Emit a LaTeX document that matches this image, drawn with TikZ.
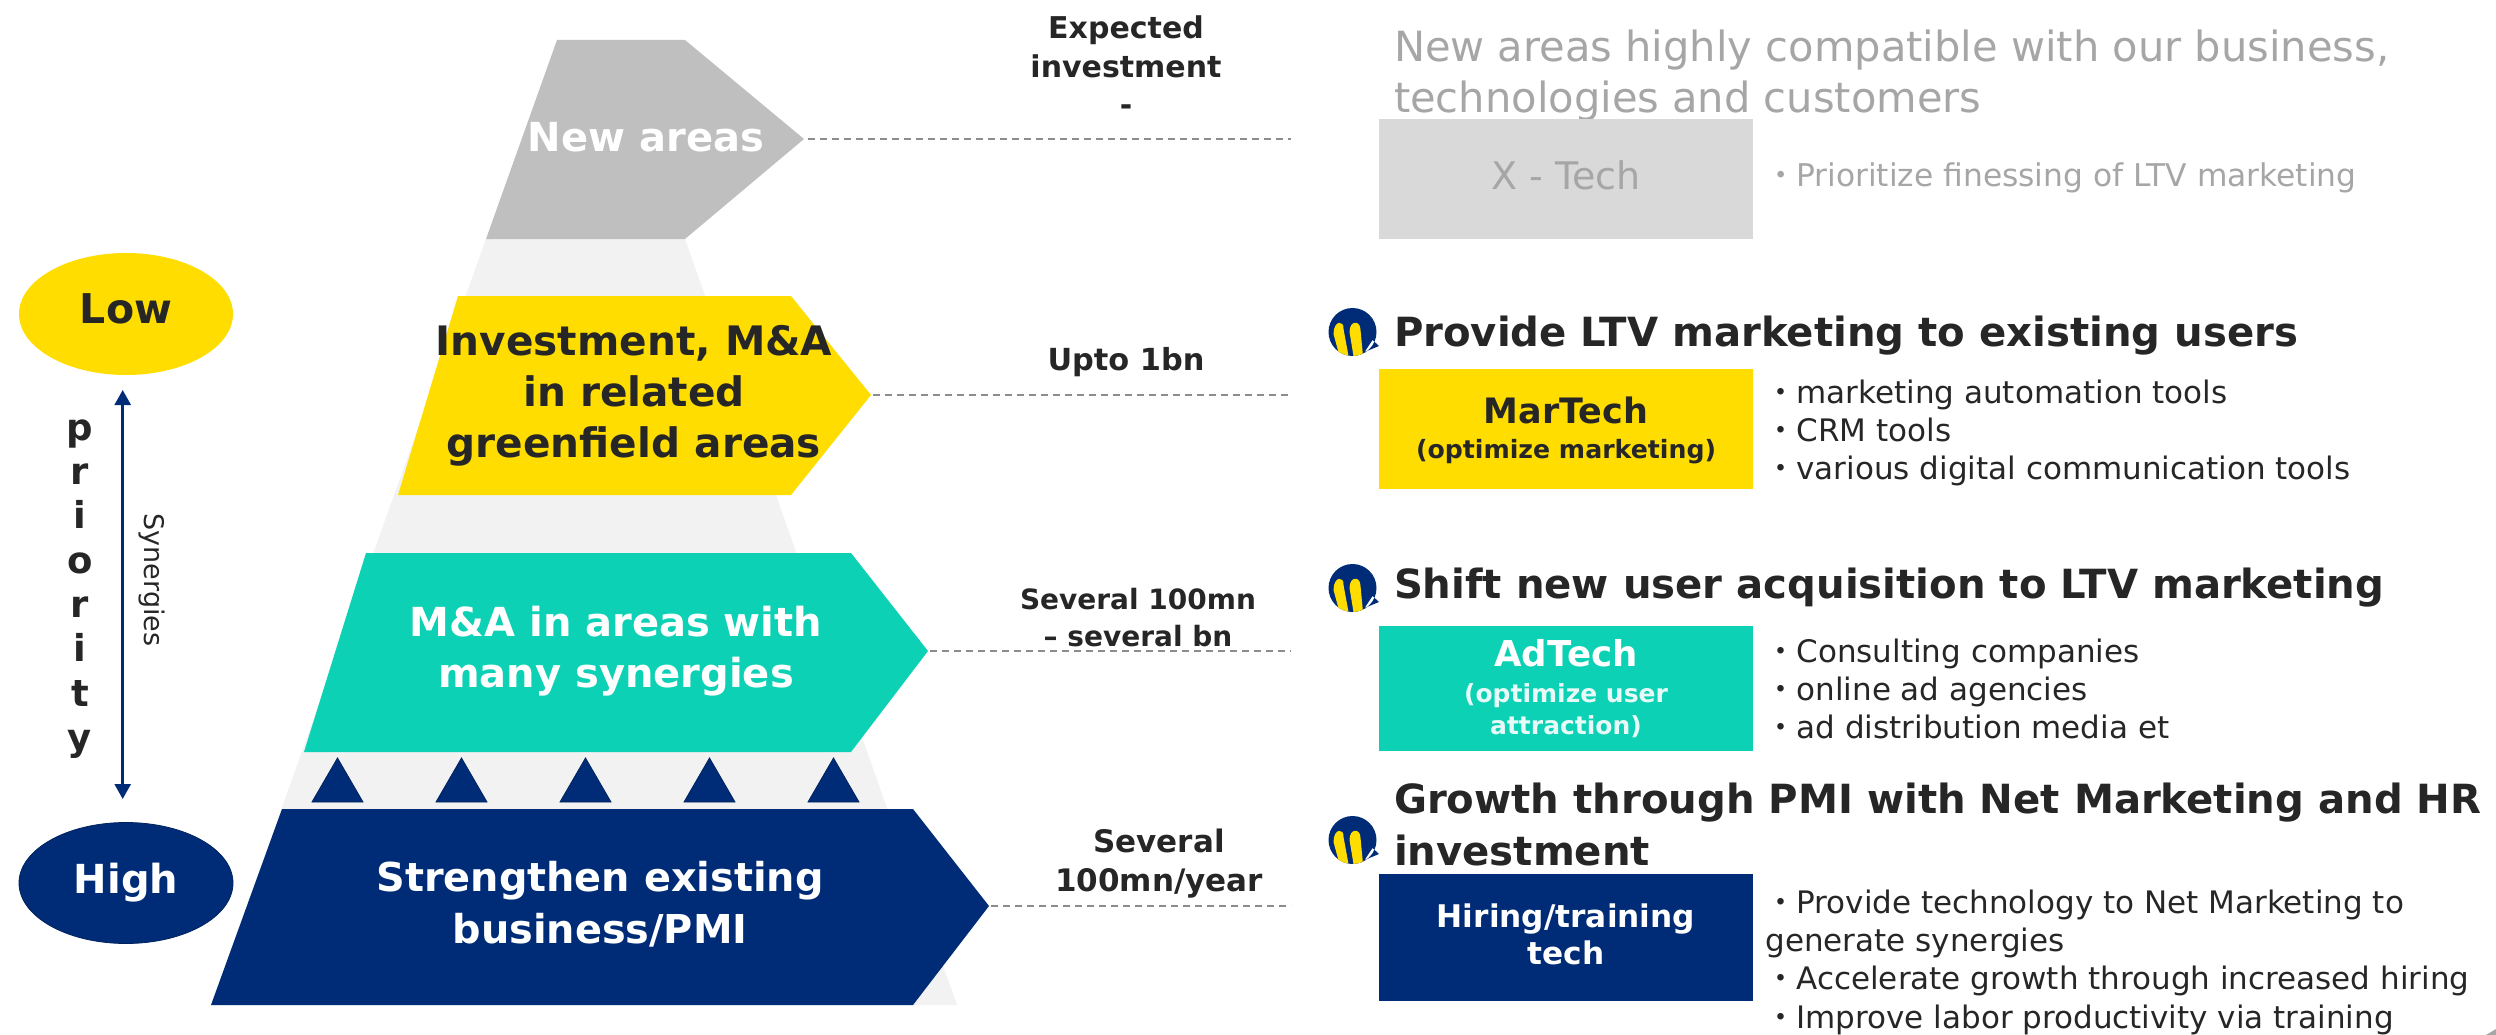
\documentclass[tikz,border=0pt]{standalone}
\usepackage{fontspec}
\setmainfont{DejaVu Sans}
\newfontfamily\cjk{Noto Sans CJK JP}
\usetikzlibrary{arrows.meta,shapes.geometric}
\definecolor{navy}{HTML}{002C77}
\definecolor{yel}{HTML}{FFDD00}
\definecolor{teal2}{HTML}{0DD1B4}
\definecolor{gr}{HTML}{BFBFBF}
\definecolor{lgr}{HTML}{F2F2F2}
\definecolor{ink}{HTML}{262626}
\definecolor{mut}{HTML}{A6A6A6}
\newcommand\bu{{\cjk ・}}
\tikzset{
 every node/.style={inner sep=0pt,outer sep=0pt},
 dashline/.style={draw=gray!90,line width=2pt,dash pattern=on 7pt off 5pt},
 pylabel/.style={font=\fontsize{40}{51}\selectfont\bfseries,align=center},
 amount/.style={font=\fontsize{30}{38.5}\selectfont\bfseries,align=center,text=ink},
 heading/.style={font=\fontsize{40.2}{52}\selectfont\bfseries,align=left,anchor=west,text=ink},
 body/.style={font=\fontsize{31}{38.3}\selectfont,align=left,anchor=west,text=ink},
 catbox/.style={minimum width=374pt,anchor=north west},
 tri/.style={fill=navy,draw=navy!80!black,line width=.8pt},
 logo/.pic={
  \fill[navy] (0,0) circle (24) (12,20) -- (26.5,14) -- (20,8) -- cycle;
  \begin{scope}
   \clip (0,0) circle (24);
   \fill[yel] (-19,2) .. controls (-19,-12) and (-8,-12) .. (-9,-3) -- (-4,24) -- (-13,24) -- cycle;
   \fill[yel] (-3,0) .. controls (-3,-12) and (8,-12) .. (8,-2) -- (10.5,24) -- (1,24) -- cycle;
  \end{scope}
 }
}
\begin{document}
\begin{tikzpicture}[x=1pt,y=-1pt]
\useasboundingbox (0,0) rectangle (2496,1035);
\fill[lgr] (486,239) -- (685,239) -- (957,1005) -- (211,1005) -- cycle;
% pyramid levels
\fill[gr] (557,40) -- (685,40) -- (804,139) -- (685,239) -- (486,239) -- cycle;
\fill[yel] (458,296) -- (791,296) -- (871,395) -- (791,495) -- (398,495) -- cycle;
\fill[teal2] (366,553) -- (851,553) -- (928,651) -- (851,752) -- (304,752) -- cycle;
\fill[navy] (282,809) -- (913,809) -- (989,906) -- (913,1005) -- (211,1005) -- cycle;
\foreach \a in {312,436,560,684,808}{
 \path[tri] (\a,802) -- (\a+25.5,758) -- (\a+51,802) -- cycle;
}
\node[pylabel,text=white] (l1) at (646,137) {New areas};
\node[pylabel,text=ink,font=\fontsize{40.6}{51}\selectfont\bfseries] (l2) at (634,396) {Investment, M\&A\\in related\\greenfield areas};
\node[pylabel,text=white] (l3) at (616,651) {M\&A in areas with\\many synergies};
\node[pylabel,text=white,font=\fontsize{39.8}{51.5}\selectfont\bfseries] (l4) at (600,904) {Strengthen existing\\business/PMI};
% dashed connectors
\coordinate (t1) at (808,139); \coordinate (e1) at (1291,139);
\coordinate (t2) at (873,395); \coordinate (e2) at (1291,395);
\coordinate (t3) at (930,651); \coordinate (e3) at (1291,651);
\coordinate (t4) at (991,906); \coordinate (e4) at (1291,906);
\draw[dashline] (t1) -- (e1);
\draw[dashline] (t2) -- (e2);
\draw[dashline] (t3) -- (e3);
\draw[dashline] (t4) -- (e4);
% amounts
\node[amount] (a1) at (1126,66) {Expected\\investment\\-};
\node[amount,font=\fontsize{30.4}{38}\selectfont\bfseries] (a2) at (1126,362) {Upto 1bn};
\node[amount,font=\fontsize{28}{37}\selectfont\bfseries] (a3) at (1138,618) {Several 100mn\\– several bn};
\node[amount,font=\fontsize{31}{39}\selectfont\bfseries] (a4) at (1159,864) {Several\\100mn/year};
% priority scale
\node[ellipse,fill=yel,minimum width=214pt,minimum height=122pt,font=\fontsize{41}{46}\selectfont\bfseries,text=ink] (low) at (126,314) {\raisebox{10pt}{Low}};
\node[ellipse,fill=navy,draw=navy!80!black,line width=.8pt,minimum width=214pt,minimum height=121pt,font=\fontsize{40}{46}\selectfont\bfseries,text=white] (high) at (126,883) {High};
\node[font=\fontsize{37}{44.3}\selectfont\bfseries,align=center,text=ink] (pri) at (80,589) {p\\r\\i\\o\\r\\i\\t\\y};
\coordinate (au) at (122.7,390); \coordinate (ad) at (122.7,799);
\draw[{Triangle[length=15pt,width=16pt]}-{Triangle[length=15pt,width=16pt]},navy,line width=2.6pt] (au) -- (ad);
\node[rotate=-90,font=\fontsize{27}{30}\selectfont,text=ink] (syn) at (152,580) {Synergies};
% right column
\node[heading,text=mut,font=\fontsize{41.6}{51}\selectfont] (h1) at (1394,76) {New areas highly compatible with our business,\\technologies and customers};
\node[catbox,fill=gray!30,minimum height=120pt] (b1) at (1379,119) {};
\node[text=mut,font=\fontsize{38}{46}\selectfont] (b1a) at (1566,175) {X - Tech};
\node[body,text=mut,font=\fontsize{31.3}{38}\selectfont] (t1b) at (1765,178) {\bu Prioritize finessing of LTV marketing};

\pic (logo2) at (1352.5,332) {logo};
\node[heading] (h2) at (1394,336) {Provide LTV marketing to existing users};
\node[catbox,fill=yel,minimum height=120pt] (b2) at (1379,369) {};
\node[font=\fontsize{35}{46}\selectfont\bfseries,text=ink] (b2a) at (1566,410) {MarTech};
\node[font=\fontsize{25.2}{34}\selectfont\bfseries,text=ink] (b2b) at (1566,452) {(optimize marketing)};
\node[body] (t2b) at (1765.5,433) {\bu marketing automation tools\\\bu CRM tools\\\bu various digital communication tools};

\pic (logo3) at (1352.5,588) {logo};
\node[heading] (h3) at (1394,588) {Shift new user acquisition to LTV marketing};
\node[catbox,fill=teal2,minimum height=125pt] (b3) at (1379,626) {};
\node[font=\fontsize{35.6}{46}\selectfont\bfseries,text=white] (b3a) at (1566,653) {AdTech};
\node[font=\fontsize{25}{32}\selectfont\bfseries,text=white!90!teal2,align=center] (b3b) at (1566,711) {(optimize user\\attraction)};
\node[body] (t3b) at (1765.5,689) {\bu Consulting companies\\\bu online ad agencies\\\bu ad distribution media et};

\pic (logo4) at (1352.5,840) {logo};
\node[heading] (h4) at (1394,825) {Growth through PMI with Net Marketing and HR\\investment};
\node[catbox,fill=navy,minimum height=127pt] (b4) at (1379,874) {};
\node[text=white,align=center,font=\fontsize{31.2}{37}\selectfont\bfseries] (b4a) at (1566,934) {Hiring/training\\tech};
\node[body] (t4b) at (1765.5,962) {\bu Provide technology to Net Marketing to\\generate synergies\\\bu Accelerate growth through increased hiring\\\bu Improve labor productivity via training};
\fill[mut] (2486,1035) -- (2496,1029) -- (2496,1035) -- cycle;
\end{tikzpicture}
\end{document}
